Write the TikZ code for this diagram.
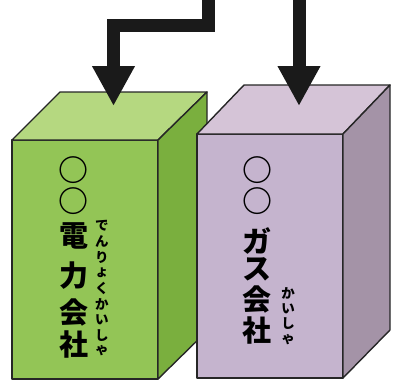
\documentclass[tikz,border=0pt]{standalone}
\usepackage{fontspec}
\usepackage{tikz}
\usetikzlibrary{arrows.meta}
\newfontfamily\jpfont{Noto Sans CJK JP}
\definecolor{edgecol}{HTML}{262626}
\definecolor{arrowcol}{HTML}{1A1A1A}
\definecolor{denFront}{HTML}{93C556}
\definecolor{denTop}{HTML}{B5D880}
\definecolor{denSide}{HTML}{7AAF3E}
\definecolor{gasFront}{HTML}{C5B4CE}
\definecolor{gasTop}{HTML}{D5C4D7}
\definecolor{gasSide}{HTML}{A493A7}

\begin{document}
\begin{tikzpicture}[x=1pt, y=-1pt,
  face/.style={draw=edgecol, line width=1.4pt, line join=round},
  maru/.style={font=\jpfont\bfseries\fontsize{30}{30}\selectfont, inner sep=0pt},
  kanji/.style={font=\jpfont\bfseries\fontsize{29}{29}\selectfont, inner sep=0pt},
  ruby/.style={font=\jpfont\bfseries\fontsize{13.5}{13.5}\selectfont, inner sep=0pt},
  flow/.style={draw=arrowcol, line width=13pt, line join=miter,
    -{Triangle[width=40pt,length=40pt]}}]
  \useasboundingbox (0,0) rectangle (400,380);

  % denryoku kaisha box
  \fill[denFront, face] (12,140) rectangle (158,379);
  \fill[denTop, face] (12,140) -- (60,92) -- (207,92) -- (158,140) -- cycle;
  \fill[denSide, face] (158,140) -- (207,92) -- (207,331) -- (158,379) -- cycle;

  % gasu kaisha box
  \fill[gasFront, face] (197,134) rectangle (343,378);
  \fill[gasTop, face] (197,134) -- (244,85) -- (390,85) -- (343,134) -- cycle;
  \fill[gasSide, face] (343,134) -- (390,85) -- (390,330) -- (343,378) -- cycle;

  % labels
  \foreach \y [count=\i] in {170, 201}
    \node[maru] (denm\i) at (73,\y) {○};
  \foreach \c/\y [count=\i] in {電/236, 力/276, 会/313, 社/345}
    \node[kanji] (den\i) at (74,\y) {\c};
  \foreach \c [count=\i] in {で,ん,り,ょ,く,か,い,し,ゃ}
    \node[ruby] (denr\i) at (102,210.4+15.6*\i) {\c};
  \foreach \y [count=\i] in {170, 201}
    \node[maru] (gasm\i) at (257,\y) {○};
  \foreach \c/\y [count=\i] in {ガ/241, ス/269, 会/300, 社/331}
    \node[kanji] (gas\i) at (257,\y) {\c};
  \foreach \c [count=\i] in {か,い,し,ゃ}
    \node[ruby] (gasr\i) at (288,277.5+15.5*\i) {\c};

  % arrows
  \coordinate (densrc) at (208,-10);
  \coordinate (dentip) at (113.5,106);
  \coordinate (gassrc) at (299,-10);
  \coordinate (gastip) at (299,106);
  \draw[flow] (densrc) -- ++(0,35.5) -| (dentip);
  \draw[flow] (gassrc) -- (gastip);
\end{tikzpicture}
\end{document}
